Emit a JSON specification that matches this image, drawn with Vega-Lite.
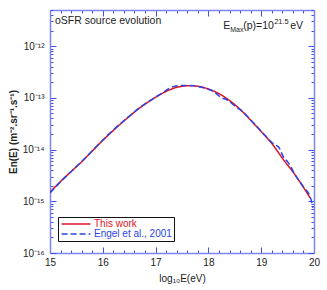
{
  "$schema": "https://vega.github.io/schema/vega-lite/v6.json",
  "width": 264,
  "height": 243,
  "autosize": "none",
  "padding": {"left": 50, "top": 10, "right": 13, "bottom": 37},
  "background": "white",
  "config": {
    "view": {"stroke": null},
    "font": "Liberation Sans",
    "axis": {
      "domainColor": "#7d85f2",
      "tickColor": "#3f4fe8",
      "grid": false,
      "labelFont": "Liberation Sans",
      "labelFontSize": 10,
      "labelColor": "#222222",
      "titleFont": "Liberation Sans",
      "titleFontSize": 10,
      "titleColor": "#222222",
      "titleFontWeight": "normal",
      "labelOverlap": false,
      "labelFlush": false,
      "domainWidth": 1.5
    }
  },
  "datasets": {
    "curves": [
      {"E": 15.0, "flux": 1.5e-15, "series": "This work"},
      {"E": 15.14, "flux": 2.1e-15, "series": "This work"},
      {"E": 15.28, "flux": 2.9e-15, "series": "This work"},
      {"E": 15.44, "flux": 4.1e-15, "series": "This work"},
      {"E": 15.6, "flux": 5.8e-15, "series": "This work"},
      {"E": 15.76, "flux": 8.5e-15, "series": "This work"},
      {"E": 15.92, "flux": 1.25e-14, "series": "This work"},
      {"E": 16.17, "flux": 2.2e-14, "series": "This work"},
      {"E": 16.48, "flux": 4.2e-14, "series": "This work"},
      {"E": 16.7, "flux": 6.4e-14, "series": "This work"},
      {"E": 16.86, "flux": 8.3e-14, "series": "This work"},
      {"E": 17.08, "flux": 1.15e-13, "series": "This work"},
      {"E": 17.34, "flux": 1.53e-13, "series": "This work"},
      {"E": 17.65, "flux": 1.72e-13, "series": "This work"},
      {"E": 17.97, "flux": 1.52e-13, "series": "This work"},
      {"E": 18.28, "flux": 1.08e-13, "series": "This work"},
      {"E": 18.6, "flux": 6.0e-14, "series": "This work"},
      {"E": 18.91, "flux": 2.8e-14, "series": "This work"},
      {"E": 19.23, "flux": 1.2e-14, "series": "This work"},
      {"E": 19.42, "flux": 6.4e-15, "series": "This work"},
      {"E": 19.61, "flux": 3.6e-15, "series": "This work"},
      {"E": 19.8, "flux": 1.86e-15, "series": "This work"},
      {"E": 19.93, "flux": 1.15e-15, "series": "This work"},
      {"E": 15.0, "flux": 1.45e-15, "series": "Engel et al., 2001"},
      {"E": 15.14, "flux": 2.05e-15, "series": "Engel et al., 2001"},
      {"E": 15.3, "flux": 3.0e-15, "series": "Engel et al., 2001"},
      {"E": 15.45, "flux": 4.2e-15, "series": "Engel et al., 2001"},
      {"E": 15.6, "flux": 5.9e-15, "series": "Engel et al., 2001"},
      {"E": 15.76, "flux": 8.6e-15, "series": "Engel et al., 2001"},
      {"E": 15.92, "flux": 1.27e-14, "series": "Engel et al., 2001"},
      {"E": 16.17, "flux": 2.25e-14, "series": "Engel et al., 2001"},
      {"E": 16.48, "flux": 4.25e-14, "series": "Engel et al., 2001"},
      {"E": 16.7, "flux": 6.5e-14, "series": "Engel et al., 2001"},
      {"E": 16.86, "flux": 8.4e-14, "series": "Engel et al., 2001"},
      {"E": 17.1, "flux": 1.2e-13, "series": "Engel et al., 2001"},
      {"E": 17.3, "flux": 1.6e-13, "series": "Engel et al., 2001"},
      {"E": 17.45, "flux": 1.72e-13, "series": "Engel et al., 2001"},
      {"E": 17.65, "flux": 1.74e-13, "series": "Engel et al., 2001"},
      {"E": 17.97, "flux": 1.5e-13, "series": "Engel et al., 2001"},
      {"E": 18.1, "flux": 1.33e-13, "series": "Engel et al., 2001"},
      {"E": 18.25, "flux": 1.0e-13, "series": "Engel et al., 2001"},
      {"E": 18.35, "flux": 9.2e-14, "series": "Engel et al., 2001"},
      {"E": 18.5, "flux": 7.0e-14, "series": "Engel et al., 2001"},
      {"E": 18.6, "flux": 5.9e-14, "series": "Engel et al., 2001"},
      {"E": 18.91, "flux": 2.85e-14, "series": "Engel et al., 2001"},
      {"E": 19.1, "flux": 1.75e-14, "series": "Engel et al., 2001"},
      {"E": 19.25, "flux": 1.25e-14, "series": "Engel et al., 2001"},
      {"E": 19.33, "flux": 1.12e-14, "series": "Engel et al., 2001"},
      {"E": 19.42, "flux": 7.2e-15, "series": "Engel et al., 2001"},
      {"E": 19.5, "flux": 5.8e-15, "series": "Engel et al., 2001"},
      {"E": 19.55, "flux": 4.9e-15, "series": "Engel et al., 2001"},
      {"E": 19.61, "flux": 3.7e-15, "series": "Engel et al., 2001"},
      {"E": 19.8, "flux": 1.9e-15, "series": "Engel et al., 2001"},
      {"E": 19.93, "flux": 1.2e-15, "series": "Engel et al., 2001"},
      {"E": 19.98, "flux": 7.5e-16, "series": "Engel et al., 2001"}
    ],
    "notes": [
      {"E": 15.095, "flux": 3.0e-12, "text": "oSFR source evolution"}
    ],
    "emax": [
      {"E": 18.28, "flux": 2.44e-12}
    ]
  },
  "resolve": {"axis": {"x": "independent", "y": "independent"}},
  "layer": [
    {
      "data": {"name": "curves"},
      "mark": {"type": "line", "strokeWidth": 1.5, "clip": true, "interpolate": "monotone"},
      "encoding": {
        "x": {
          "field": "E", "type": "quantitative",
          "scale": {"domain": [15, 20], "nice": false, "zero": false},
          "axis": {
            "orient": "bottom",
            "values": [15, 15.2, 15.4, 15.6, 15.8, 16, 16.2, 16.4, 16.6, 16.8, 17, 17.2, 17.4, 17.6, 17.8, 18, 18.2, 18.4, 18.6, 18.8, 19, 19.2, 19.4, 19.6, 19.8, 20],
            "labelExpr": "datum.value % 1 == 0 ? format(datum.value, 'd') : ''",
            "tickSize": {"condition": {"test": "datum.value % 1 == 0", "value": -6}, "value": -3},
            "labelPadding": 10,
            "title": "log₁₀E(eV)",
            "titlePadding": 3
          }
        },
        "y": {
          "field": "flux", "type": "quantitative",
          "scale": {"type": "log", "domain": [1e-16, 5e-12], "nice": false},
          "axis": {
            "orient": "left",
            "values": [1e-16, 2e-16, 3e-16, 4e-16, 5e-16, 6e-16, 7e-16, 8e-16, 9e-16, 1e-15, 2e-15, 3e-15, 4e-15, 5e-15, 6e-15, 7e-15, 8e-15, 9e-15, 1e-14, 2e-14, 3e-14, 4e-14, 5e-14, 6e-14, 7e-14, 8e-14, 9e-14, 1e-13, 2e-13, 3e-13, 4e-13, 5e-13, 6e-13, 7e-13, 8e-13, 9e-13, 1e-12, 2e-12, 3e-12, 4e-12, 5e-12],
            "labelExpr": "abs(datum.value/1e-12 - 1) < 0.01 ? '10⁻¹²' : abs(datum.value/1e-13 - 1) < 0.01 ? '10⁻¹³' : abs(datum.value/1e-14 - 1) < 0.01 ? '10⁻¹⁴' : abs(datum.value/1e-15 - 1) < 0.01 ? '10⁻¹⁵' : abs(datum.value/1e-16 - 1) < 0.01 ? '10⁻¹⁶' : ''",
            "tickSize": {"condition": {"test": "abs(log(datum.value)/LN10 - round(log(datum.value)/LN10)) < 0.001", "value": -6}, "value": -3},
            "labelPadding": 12,
            "title": "En(E) (m⁻².sr⁻¹.s⁻¹)",
            "titleFontWeight": "bold",
            "titlePadding": 4
          }
        },
        "color": {
          "field": "series", "type": "nominal",
          "scale": {"domain": ["This work", "Engel et al., 2001"], "range": ["#dd1424", "#2a44e6"]},
          "legend": {
            "title": null,
            "orient": "none",
            "legendX": 8,
            "legendY": 207,
            "fillColor": "white",
            "strokeColor": "#111111",
            "padding": 2,
            "rowPadding": 0,
            "symbolType": "M-3.6,0H3.6",
            "symbolSize": 64,
            "symbolStrokeWidth": 1.6,
            "symbolOffset": 11,
            "labelOffset": 13,
            "labelFontSize": 10,
            "labelFont": "Liberation Sans",
            "labelColor": {"expr": "datum.value == 'This work' ? '#dd1424' : '#2a44e6'"}
          }
        },
        "strokeDash": {
          "field": "series", "type": "nominal",
          "scale": {"domain": ["This work", "Engel et al., 2001"], "range": [[1, 0], [6, 3]]},
          "legend": {
            "title": null,
            "orient": "none",
            "legendX": 8,
            "legendY": 207,
            "fillColor": "white",
            "strokeColor": "#111111",
            "padding": 2,
            "rowPadding": 0,
            "symbolType": "M-3.6,0H3.6",
            "symbolSize": 64,
            "symbolStrokeWidth": 1.6,
            "symbolOffset": 11,
            "labelOffset": 13,
            "labelFontSize": 10,
            "labelFont": "Liberation Sans",
            "labelColor": {"expr": "datum.value == 'This work' ? '#dd1424' : '#2a44e6'"}
          }
        }
      }
    },
    {
      "data": {"name": "notes"},
      "mark": {"type": "text", "align": "left", "baseline": "middle", "fontSize": 10.5, "color": "#222222", "font": "Liberation Sans"},
      "encoding": {
        "x": {"field": "E", "type": "quantitative", "scale": {"domain": [15, 20], "nice": false, "zero": false},
          "axis": {"orient": "top", "title": null, "labels": false,
            "values": [15, 15.2, 15.4, 15.6, 15.8, 16, 16.2, 16.4, 16.6, 16.8, 17, 17.2, 17.4, 17.6, 17.8, 18, 18.2, 18.4, 18.6, 18.8, 19, 19.2, 19.4, 19.6, 19.8, 20],
            "tickSize": {"condition": {"test": "datum.value % 1 == 0", "value": -6}, "value": -3}}},
        "y": {"field": "flux", "type": "quantitative", "scale": {"type": "log", "domain": [1e-16, 5e-12], "nice": false},
          "axis": {"orient": "right", "title": null, "labels": false,
            "values": [1e-16, 2e-16, 3e-16, 4e-16, 5e-16, 6e-16, 7e-16, 8e-16, 9e-16, 1e-15, 2e-15, 3e-15, 4e-15, 5e-15, 6e-15, 7e-15, 8e-15, 9e-15, 1e-14, 2e-14, 3e-14, 4e-14, 5e-14, 6e-14, 7e-14, 8e-14, 9e-14, 1e-13, 2e-13, 3e-13, 4e-13, 5e-13, 6e-13, 7e-13, 8e-13, 9e-13, 1e-12, 2e-12, 3e-12, 4e-12, 5e-12],
            "tickSize": {"condition": {"test": "abs(log(datum.value)/LN10 - round(log(datum.value)/LN10)) < 0.001", "value": -6}, "value": -3}}},
        "text": {"field": "text"}
      }
    },
    {
      "data": {"name": "emax"},
      "mark": {"type": "text", "align": "left", "baseline": "middle", "fontSize": 10.5, "color": "#222222", "font": "Liberation Sans", "text": "E"},
      "encoding": {
        "x": {"field": "E", "type": "quantitative", "scale": {"domain": [15, 20], "nice": false, "zero": false}, "axis": null},
        "y": {"field": "flux", "type": "quantitative", "scale": {"type": "log", "domain": [1e-16, 5e-12], "nice": false}, "axis": null}
      }
    },
    {
      "data": {"name": "emax"},
      "mark": {"type": "text", "align": "left", "baseline": "middle", "fontSize": 7, "color": "#222222", "font": "Liberation Sans", "text": "Max", "dx": 7, "dy": 4},
      "encoding": {
        "x": {"field": "E", "type": "quantitative", "scale": {"domain": [15, 20], "nice": false, "zero": false}, "axis": null},
        "y": {"field": "flux", "type": "quantitative", "scale": {"type": "log", "domain": [1e-16, 5e-12], "nice": false}, "axis": null}
      }
    },
    {
      "data": {"name": "emax"},
      "mark": {"type": "text", "align": "left", "baseline": "middle", "fontSize": 10.5, "color": "#222222", "font": "Liberation Sans", "text": "(p)=10", "dx": 20},
      "encoding": {
        "x": {"field": "E", "type": "quantitative", "scale": {"domain": [15, 20], "nice": false, "zero": false}, "axis": null},
        "y": {"field": "flux", "type": "quantitative", "scale": {"type": "log", "domain": [1e-16, 5e-12], "nice": false}, "axis": null}
      }
    },
    {
      "data": {"name": "emax"},
      "mark": {"type": "text", "align": "left", "baseline": "middle", "fontSize": 7.5, "color": "#222222", "font": "Liberation Sans", "text": "21.5", "dx": 51, "dy": -4},
      "encoding": {
        "x": {"field": "E", "type": "quantitative", "scale": {"domain": [15, 20], "nice": false, "zero": false}, "axis": null},
        "y": {"field": "flux", "type": "quantitative", "scale": {"type": "log", "domain": [1e-16, 5e-12], "nice": false}, "axis": null}
      }
    },
    {
      "data": {"name": "emax"},
      "mark": {"type": "text", "align": "left", "baseline": "middle", "fontSize": 10.5, "color": "#222222", "font": "Liberation Sans", "text": "eV", "dx": 67},
      "encoding": {
        "x": {"field": "E", "type": "quantitative", "scale": {"domain": [15, 20], "nice": false, "zero": false}, "axis": null},
        "y": {"field": "flux", "type": "quantitative", "scale": {"type": "log", "domain": [1e-16, 5e-12], "nice": false}, "axis": null}
      }
    }
  ]
}
